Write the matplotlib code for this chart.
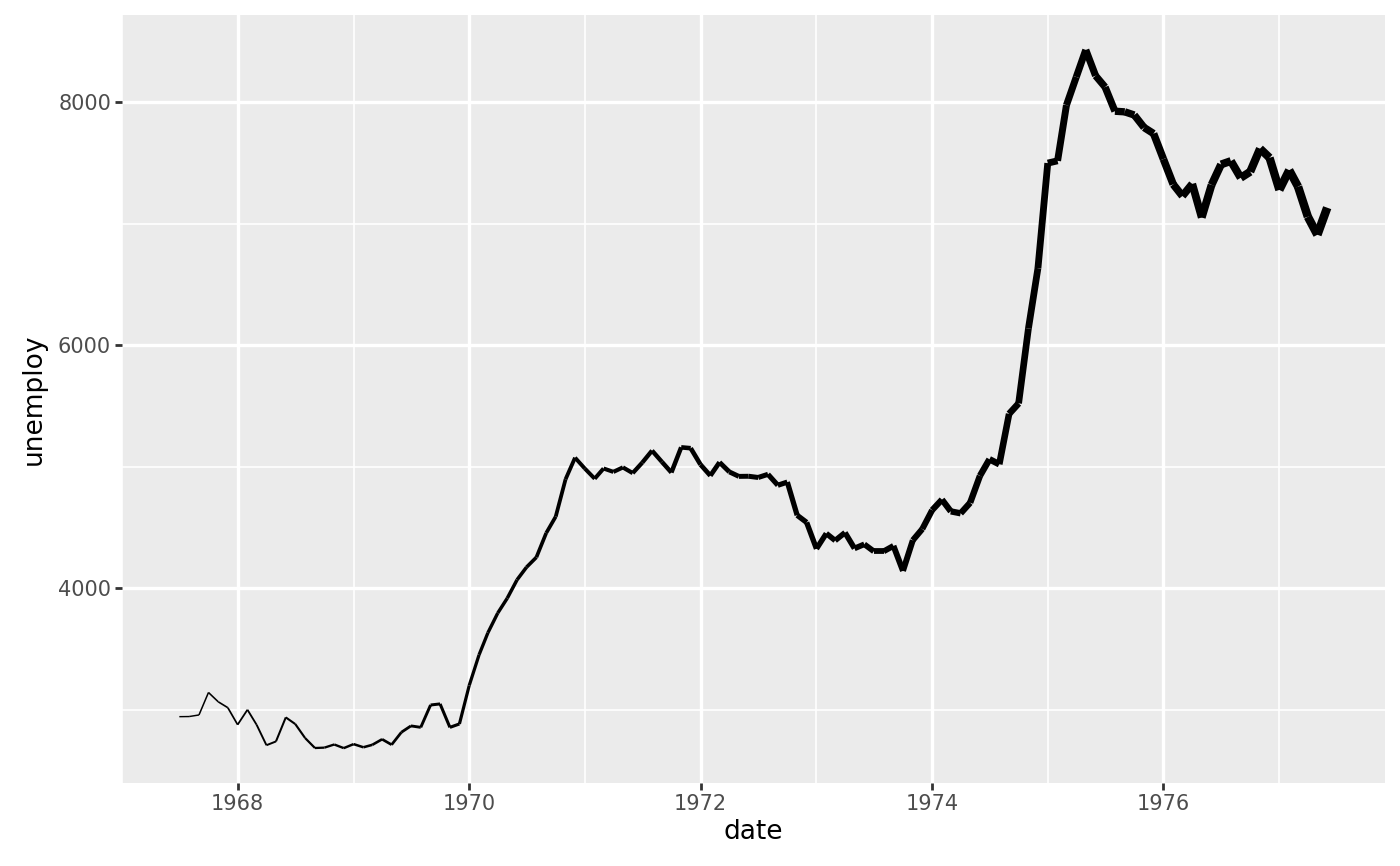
import numpy as np
import matplotlib
matplotlib.use("Agg")
import matplotlib.pyplot as plt
import matplotlib.dates as mdates
from matplotlib.collections import LineCollection
from matplotlib.ticker import FixedLocator

# monthly unemployment (thousands), 1967-07 .. 1977-06
start_month = "1967-07"
n_months = 120
unemploy = [
    2944, 2945, 2958, 3143, 3066, 3018,
    2878, 3001, 2877, 2709, 2740, 2938, 2883, 2768, 2686, 2689, 2715, 2685,
    2718, 2692, 2712, 2758, 2713, 2816, 2868, 2856, 3040, 3049, 2856, 2884,
    3201, 3453, 3635, 3797, 3919, 4071, 4175, 4256, 4456, 4591, 4898, 5076,
    4986, 4903, 4987, 4959, 4996, 4949, 5035, 5134, 5042, 4954, 5161, 5154,
    5019, 4928, 5038, 4959, 4922, 4923, 4913, 4939, 4849, 4875, 4602, 4543,
    4326, 4452, 4394, 4459, 4329, 4363, 4305, 4305, 4350, 4144, 4396, 4489,
    4644, 4731, 4634, 4618, 4705, 4927, 5063, 5022, 5437, 5523, 6140, 6636,
    7501, 7520, 7978, 8210, 8433, 8220, 8127, 7928, 7923, 7897, 7794, 7744,
    7534, 7326, 7230, 7330, 7053, 7322, 7490, 7518, 7380, 7430, 7620, 7545,
    7280, 7443, 7307, 7059, 6911, 7134,
]

dates = np.arange(np.datetime64(start_month), np.datetime64(start_month) + n_months).astype("datetime64[D]")
x = mdates.date2num(dates.astype("O"))
y = np.array(unemploy, dtype=float)

fig = plt.figure(figsize=(14, 8.66), dpi=100)
ax = fig.add_axes([0.0871, 0.0958, 0.9019, 0.8869])
ax.set_facecolor("#EBEBEB")
for s in ax.spines.values():
    s.set_visible(False)

# width grows along the time axis, drawn segment by segment
pts = np.column_stack([x, y]).reshape(-1, 1, 2)
segs = np.concatenate([pts[:-1], pts[1:]], axis=1)
mid_x = (x[:-1] + x[1:]) / 2
lw = 1.0 + (mid_x - x.min()) / (x.max() - x.min()) * 5.2
lc = LineCollection(segs, linewidths=lw, colors="black", capstyle="butt", joinstyle="miter", zorder=3)
ax.add_collection(lc)

xr = x.max() - x.min()
yr = y.max() - y.min()
ax.set_xlim(x.min() - 0.05 * xr, x.max() + 0.05 * xr)
ax.set_ylim(y.min() - 0.05 * yr, y.max() + 0.05 * yr)

major_years = [1968, 1970, 1972, 1974, 1976]
minor_years = [1967, 1969, 1971, 1973, 1975, 1977]
ax.xaxis.set_major_locator(FixedLocator(mdates.date2num([np.datetime64(f"{yy}-01-01").astype("O") for yy in major_years])))
ax.xaxis.set_minor_locator(FixedLocator(mdates.date2num([np.datetime64(f"{yy}-01-01").astype("O") for yy in minor_years])))
ax.xaxis.set_major_formatter(mdates.DateFormatter("%Y"))
ax.yaxis.set_major_locator(FixedLocator([4000, 6000, 8000]))
ax.yaxis.set_minor_locator(FixedLocator([3000, 5000, 7000]))

ax.grid(which="major", color="white", linewidth=2.4)
ax.grid(which="minor", color="white", linewidth=1.2)
ax.set_axisbelow(True)
ax.tick_params(which="major", length=4.8, width=2.0, color="#333333", labelcolor="#4D4D4D", labelsize=15, pad=3)
ax.tick_params(which="minor", length=0)

ax.set_xlabel("date", fontsize=19, labelpad=4)
ax.set_ylabel("unemploy", fontsize=19, labelpad=8)

fig.savefig("out.png", dpi=100)
